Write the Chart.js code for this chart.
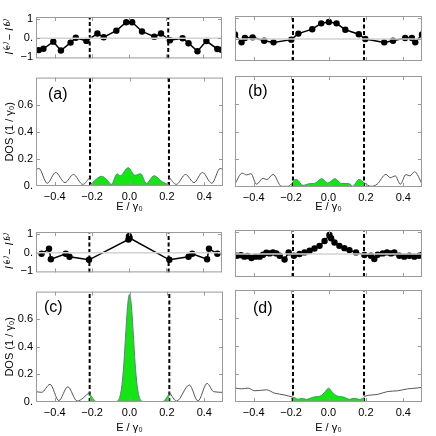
<!DOCTYPE html>
<html>
<head>
<meta charset="utf-8">
<script src="https://cdn.jsdelivr.net/npm/chart.js@4.4.1/dist/chart.umd.min.js"></script>
<style>
html, body { margin: 0; padding: 0; background: #fff; }
#fig { position: relative; width: 436px; height: 436px; }
#fig canvas { position: absolute; }
</style>
</head>
<body>
<div id="fig">
	<canvas id="a-top"></canvas>
	<canvas id="a-dos"></canvas>
	<canvas id="b-top"></canvas>
	<canvas id="b-dos"></canvas>
	<canvas id="c-top"></canvas>
	<canvas id="c-dos"></canvas>
	<canvas id="d-top"></canvas>
	<canvas id="d-dos"></canvas>
</div>
<script>
// Data
// ================================================================================
// current difference I(e) - I(b) (upper strips)
let aTopE = [-0.485, -0.46, -0.407, -0.366, -0.314, -0.286, -0.229, -0.170, -0.136, -0.068,
	-0.015, 0.017, 0.070, 0.136, 0.172, 0.220, 0.288, 0.320, 0.368, 0.416, 0.475, 0.497];
let aTopI = [-0.62, -0.55, -0.18, -0.64, -0.23, 0.02, -0.14, 0.24, 0.05, 0.39,
	0.83, 0.83, 0.35, 0.08, 0.24, -0.11, 0.0, -0.26, -0.68, -0.15, -0.56, -0.60];

let bTopE = [-0.5, -0.465, -0.447, -0.406, -0.344, -0.294, -0.199, -0.161, -0.087, -0.039,
	0.002, 0.043, 0.090, 0.162, 0.197, 0.298, 0.345, 0.410, 0.446, 0.464, 0.5];
let bTopI = [0.22, -0.16, 0.05, 0.08, -0.08, -0.16, -0.03, 0.26, 0.47, 0.75,
	0.81, 0.75, 0.44, 0.23, 0.0, -0.16, -0.08, 0.05, 0.05, -0.16, 0.22];

let cTopE = [-0.47, -0.43, -0.42, -0.34, -0.32, -0.215, -0.003, 0.0, 0.003,
	0.217, 0.32, 0.34, 0.42, 0.43, 0.475];
let cTopI = [-0.06, 0.21, -0.35, -0.06, -0.22, -0.38, 0.70, 0.87, 0.78,
	-0.38, -0.22, -0.06, -0.35, 0.21, -0.06];

let dTopE = [-0.49, -0.468, -0.45, -0.433, -0.412, -0.39, -0.368, -0.35, -0.332, -0.315,
	-0.297, -0.279, -0.261, -0.235, -0.213, -0.185, -0.155, -0.128, -0.101, -0.075,
	-0.048, -0.021, 0.005, 0.014, 0.032, 0.058, 0.085, 0.112, 0.147, 0.192,
	0.227, 0.245, 0.263, 0.29, 0.313, 0.334, 0.352, 0.379, 0.405, 0.432,
	0.459, 0.485, 0.503];
let dTopI = [-0.08, -0.05, -0.12, -0.09, -0.18, -0.12, -0.12, -0.03, 0.06, 0.03,
	0.075, 0.03, -0.075, -0.25, 0.075, -0.075, 0.0, 0.075, 0.15, 0.255,
	0.375, 0.6, 0.87, 0.72, 0.525, 0.375, 0.27, 0.18, 0.075, -0.045,
	-0.075, -0.225, -0.03, 0.03, 0.075, 0.03, 0.075, -0.075, -0.12, -0.075,
	-0.12, -0.075, -0.03];

// density of states: outer (left / right) curves and the filled inner part
let aOutLE = [-0.5, -0.485, -0.44, -0.395, -0.345, -0.30, -0.25, -0.211];
let aOutLD = [0.12, 0.13, 0.02, 0.10, 0.025, 0.085, 0.012, 0.065];
let aOutRE = [0.211, 0.25, 0.30, 0.345, 0.39, 0.44, 0.485, 0.5];
let aOutRD = [0.065, 0.012, 0.085, 0.025, 0.10, 0.02, 0.13, 0.12];
let aInE = [-0.211, -0.19, -0.15, -0.12, -0.097, -0.066, -0.05, -0.007, 0.029, 0.06, 0.09, 0.131, 0.176, 0.211];
let aInD = [0.008, 0.035, 0.072, 0.045, 0.012, 0.09, 0.075, 0.135, 0.079, 0.091, 0.019, 0.075, 0.03, 0.008];

let bOutLE = [-0.5, -0.462, -0.438, -0.415, -0.385, -0.35, -0.33, -0.296, -0.252, -0.216, -0.19];
let bOutLD = [0.024, 0.10, 0.087, 0.096, 0.02, 0.063, 0.053, 0.091, 0.005, 0.005, 0.036];
let bOutRE = [0.19, 0.227, 0.26, 0.307, 0.33, 0.357, 0.384, 0.414, 0.435, 0.46, 0.5];
let bOutRD = [0.03, 0.005, 0.02, 0.091, 0.067, 0.08, 0.02, 0.09, 0.08, 0.11, 0.024];
let bInE = [-0.19, -0.172, -0.137, -0.101, -0.075, -0.036, -0.004, 0.035, 0.067, 0.111, 0.128, 0.164, 0.19];
let bInD = [0.045, 0.055, 0.012, 0.024, 0.026, 0.06, 0.029, 0.06, 0.026, 0.024, 0.005, 0.055, 0.03];

let cOutLE = [-0.5, -0.47, -0.425, -0.378, -0.33, -0.28, -0.213];
let cOutLD = [0.075, 0.07, 0.128, 0.01, 0.11, 0.007, 0.07];
let cOutRE = [0.213, 0.252, 0.32, 0.366, 0.415, 0.45, 0.5];
let cOutRD = [0.07, 0.007, 0.123, 0.007, 0.135, 0.075, 0.07];
let cInE = [-0.213, -0.195, -0.18, -0.12, -0.07, -0.06, -0.05, -0.04, -0.03, -0.02, -0.01, 0,
	0.01, 0.02, 0.03, 0.04, 0.05, 0.06, 0.07, 0.12, 0.18, 0.195, 0.213];
let cInD = [0.06, 0.025, 0.004, 0.0, 0.003, 0.013, 0.046, 0.128, 0.28, 0.5, 0.7, 0.78,
	0.7, 0.5, 0.28, 0.128, 0.046, 0.013, 0.003, 0.0, 0.004, 0.025, 0.06];

let dOutLE = [-0.5, -0.465, -0.43, -0.394, -0.332, -0.288, -0.234, -0.19];
let dOutLD = [0.10, 0.094, 0.099, 0.08, 0.087, 0.063, 0.05, 0.034];
let dOutRE = [0.19, 0.2, 0.264, 0.317, 0.37, 0.423, 0.468, 0.5];
let dOutRD = [0.035, 0.043, 0.055, 0.075, 0.08, 0.094, 0.099, 0.105];
let dInE = [-0.19, -0.181, -0.163, -0.145, -0.119, -0.083, -0.039, -0.02, 0.0, 0.02, 0.041, 0.085, 0.112, 0.138, 0.165, 0.19];
let dInD = [0.03, 0.031, 0.019, 0.026, 0.019, 0.034, 0.046, 0.07, 0.099, 0.07, 0.046, 0.034, 0.019, 0.026, 0.019, 0.031];

// band edges (dashed lines)
let aEdge = [-0.211, 0.211];
let bEdge = [-0.19, 0.19];
let cEdge = [-0.213, 0.213];
let dEdge = [-0.19, 0.19];

// axis ranges and tick values
let eRange = [-0.5, 0.5];
let iRange = [-1.05, 1.1];
let dosRange = [0, 0.8];
let eTicks = [-0.4, -0.2, 0, 0.2, 0.4];
let iTicks = [-1, 0, 1];
let dosTicks = [0, 0.2, 0.4, 0.6];

// Helpers
// ================================================================================
let FONT = '"Liberation Sans", Arial, sans-serif';
let xy = (es, vs) => es.map((e, i) => ({x: e, y: vs[i]}));

let fmtE = v => {
	let s = Math.abs(v).toFixed(1);
	return v < -1e-9 ? '\u2212' + s : s;
};
let fmtI = v => v === 0 ? '0.' : (v < 0 ? '\u2212' + Math.abs(v) : String(v));
let fmtDos = v => Math.abs(v) < 1e-9 ? '0.' : v.toFixed(1);

// frame with inward ticks + panel letter
let frameTicks = {
	id: 'frameTicks',
	afterDatasetsDraw(chart, args, opts) {
		let {ctx, chartArea: ca, scales} = chart;
		ctx.save();
		ctx.strokeStyle = '#9a9a9a';
		ctx.lineWidth = 1;
		ctx.strokeRect(ca.left + 0.5, ca.top + 0.5, ca.width - 1, ca.height - 1);
		ctx.beginPath();
		scales.x.ticks.forEach(t => {
			let px = Math.round(scales.x.getPixelForValue(t.value)) + 0.5;
			ctx.moveTo(px, ca.bottom); ctx.lineTo(px, ca.bottom - 4);
			ctx.moveTo(px, ca.top); ctx.lineTo(px, ca.top + 4);
		});
		scales.y.ticks.forEach(t => {
			let py = Math.round(scales.y.getPixelForValue(t.value)) + 0.5;
			if (py < ca.top + 2 || py > ca.bottom - 2) return;
			ctx.moveTo(ca.left, py); ctx.lineTo(ca.left + 4, py);
			ctx.moveTo(ca.right, py); ctx.lineTo(ca.right - 4, py);
		});
		ctx.stroke();
		if (opts.label) {
			ctx.fillStyle = '#000';
			ctx.font = '16px ' + FONT;
			ctx.textBaseline = 'middle';
			ctx.fillText(opts.label, ca.left + opts.lx, ca.top + opts.ly);
		}
		ctx.restore();
	}
};

let edgeSets = (edge, yr) => edge.map(e => ({
	data: [{x: e, y: yr[0]}, {x: e, y: yr[1]}],
	borderColor: '#000', borderWidth: 2, borderDash: [4, 2.5],
	pointRadius: 0, showLine: true
}));

let topSets = (es, vs, edge) => [
	{data: [{x: eRange[0], y: 0}, {x: eRange[1], y: 0}], borderColor: '#d2d2d2',
		borderWidth: 1.5, pointRadius: 0, showLine: true},
	...edgeSets(edge, iRange),
	{data: xy(es, vs), borderColor: '#000', borderWidth: 1.5, showLine: true,
		pointRadius: 3.2, pointBackgroundColor: '#000', pointBorderWidth: 0}
];

let dosSets = (inE, inD, lE, lD, rE, rD, edge) => [
	{data: xy(inE, inD), borderColor: '#6a7890', borderWidth: 1, backgroundColor: '#14e614',
		fill: 'origin', showLine: true, pointRadius: 0, cubicInterpolationMode: 'monotone'},
	{data: xy(lE, lD), borderColor: '#555', borderWidth: 1, showLine: true, pointRadius: 0,
		cubicInterpolationMode: 'monotone'},
	{data: xy(rE, rD), borderColor: '#555', borderWidth: 1, showLine: true, pointRadius: 0,
		cubicInterpolationMode: 'monotone'},
	...edgeSets(edge, dosRange)
];

// g: canvas geometry and plot box, all in page pixels
let makePanel = (id, g, datasets, kind, leftCol, label) => {
	let cv = document.getElementById(id);
	cv.width = g.w; cv.height = g.h;
	cv.style.left = g.x + 'px'; cv.style.top = g.y + 'px';
	cv.style.width = g.w + 'px'; cv.style.height = g.h + 'px';
	let yw = g.bl - g.x, pr = g.x + g.w - g.br, pt = g.bt - g.y, xh = g.y + g.h - g.bb;
	let isTop = kind === 'top';
	let yr = isTop ? iRange : dosRange;
	let yt = isTop ? iTicks : dosTicks;
	return new Chart(cv, {
		type: 'scatter',
		data: {datasets: datasets},
		options: {
			responsive: false, animation: false,
			layout: {padding: {top: pt, right: pr, left: 0, bottom: 0}},
			plugins: {
				legend: {display: false}, tooltip: {enabled: false},
				frameTicks: label ? {label: label.t, lx: label.x, ly: label.y} : {}
			},
			scales: {
				x: {
					type: 'linear', min: eRange[0], max: eRange[1],
					grid: {display: false, drawTicks: false}, border: {display: false},
					ticks: {display: !isTop, padding: 4, color: '#000',
						font: {family: FONT, size: 11}, callback: fmtE, maxRotation: 0},
					afterBuildTicks: s => { s.ticks = eTicks.map(v => ({value: v})); },
					title: {display: !isTop, text: 'E / \u03b3\u2080', color: '#000',
						font: {family: FONT, size: 11}, padding: {top: 0, bottom: 1}},
					afterFit: s => { s.height = xh; }
				},
				y: {
					type: 'linear', min: yr[0], max: yr[1],
					grid: {display: false, drawTicks: false}, border: {display: false},
					ticks: {display: leftCol, padding: 3, color: '#000',
						font: {family: FONT, size: 11}, callback: isTop ? fmtI : fmtDos},
					afterBuildTicks: s => { s.ticks = yt.map(v => ({value: v})); },
					title: {display: leftCol,
						text: isTop ? 'I\u207d\u1d49\u207e \u2212 I\u207d\u1d47\u207e' : 'DOS (1 / \u03b3\u2080)',
						color: '#000', font: {family: FONT, size: 11, style: isTop ? 'italic' : 'normal'},
						padding: {top: 3, bottom: 0}},
					afterFit: s => { s.width = yw; }
				}
			}
		},
		plugins: [frameTicks]
	});
};

// Charts
// ================================================================================
makePanel('a-top', {x: 0, y: 0, w: 226, h: 68, bl: 36, br: 223, bt: 17, bb: 63},
	topSets(aTopE, aTopI, aEdge), 'top', true);
makePanel('a-dos', {x: 0, y: 68, w: 226, h: 147, bl: 36, br: 223, bt: 75, bb: 186},
	dosSets(aInE, aInD, aOutLE, aOutLD, aOutRE, aOutRD, aEdge), 'dos', true, {t: '(a)', x: 12, y: 17});
makePanel('b-top', {x: 226, y: 0, w: 210, h: 68, bl: 235, br: 422, bt: 16, bb: 61},
	topSets(bTopE, bTopI, bEdge), 'top', false);
makePanel('b-dos', {x: 226, y: 68, w: 210, h: 147, bl: 235, br: 422, bt: 76, bb: 187},
	dosSets(bInE, bInD, bOutLE, bOutLD, bOutRE, bOutRD, bEdge), 'dos', false, {t: '(b)', x: 13, y: 16});
makePanel('c-top', {x: 0, y: 215, w: 226, h: 67, bl: 36, br: 223, bt: 232, bb: 278},
	topSets(cTopE, cTopI, cEdge), 'top', true);
makePanel('c-dos', {x: 0, y: 282, w: 226, h: 154, bl: 36, br: 223, bt: 290, bb: 402},
	dosSets(cInE, cInD, cOutLE, cOutLD, cOutRE, cOutRD, cEdge), 'dos', true, {t: '(c)', x: 8, y: 16});
makePanel('d-top', {x: 226, y: 215, w: 210, h: 67, bl: 235, br: 422, bt: 230, bb: 277},
	topSets(dTopE, dTopI, dEdge), 'top', false);
makePanel('d-dos', {x: 226, y: 282, w: 210, h: 154, bl: 235, br: 422, bt: 290, bb: 402},
	dosSets(dInE, dInD, dOutLE, dOutLD, dOutRE, dOutRD, dEdge), 'dos', false, {t: '(d)', x: 18, y: 19});
</script>
</body>
</html>
